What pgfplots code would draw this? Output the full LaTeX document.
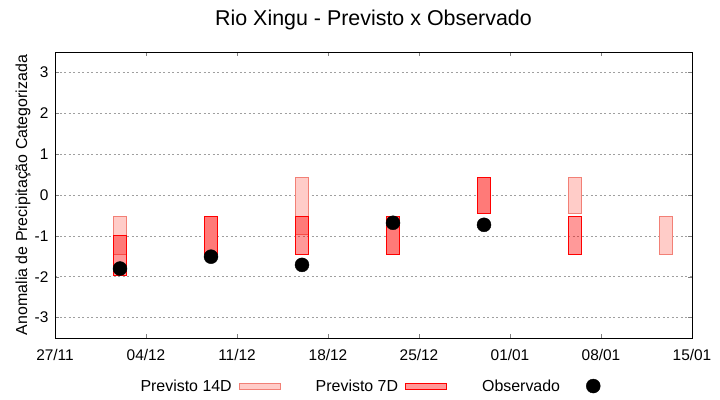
\documentclass[border=0pt]{standalone}
\usepackage{pgfplots}
\pgfplotsset{compat=1.18}
\usepackage{fontspec}
\setmainfont{Liberation Sans}

\definecolor{fill14}{RGB}{255,204,200}
\definecolor{edge14}{RGB}{242,128,118}

\begin{document}
\begin{tikzpicture}
\path[use as bounding box] (0,0) rectangle (720bp,400bp);
\begin{axis}[
    at={(55bp,62bp)}, anchor=south west,
    scale only axis,
    width=637bp, height=286bp,
    xmin=0, xmax=49,
    ymin=-3.5, ymax=3.5,
    xtick={0,7,14,21,28,35,42,49},
    xticklabels={27/11,04/12,11/12,18/12,25/12,01/01,08/01,15/01},
    ytick={-3,-2,-1,0,1,2,3},
    tick align=inside,
    major tick length=4bp,
    axis line style={line width=0.8bp},
    ymajorgrids,
    major grid style={gray!75, line width=0.7bp, dash pattern=on 2bp off 2.5bp},
    /pgf/number format/assume math mode=true,
    tick label style={font=\fontsize{15.5}{17}\selectfont},
    xticklabel style={anchor=base, yshift=-22bp},
    yticklabel style={xshift=-3bp},
    title={Rio Xingu - Previsto x Observado},
    title style={at={(0.5,1)}, anchor=base, yshift=20.5bp, font=\fontsize{21.5}{24}\selectfont},
    ylabel={Anomalia de Precipitação Categorizada},
    ylabel style={at={(axis description cs:0,0.5)}, anchor=center, rotate=0, yshift=32bp, font=\fontsize{16}{18}\selectfont},
    unbounded coords=jump,
    legend columns=3,
    legend plot pos=right,
    legend style={at={(0.5,-0.168)}, anchor=center, draw=none, fill=none,
        font=\fontsize{16}{18}\selectfont,
        /tikz/every even column/.append style={column sep=33bp},
        /tikz/every odd column/.append style={column sep=5bp}},
]

% Previsto 14D
\addplot[fill=fill14, draw=edge14, line width=1bp, line cap=rect, line join=miter,
    legend image code/.code={\draw[fill=fill14, draw=edge14, line width=1bp] (0bp,-3bp) rectangle (41bp,3bp);}]
coordinates {
    (4.525,-1.45) (5.475,-1.45) (5.475,-0.52) (4.525,-0.52) (4.525,-1.45) (5,nan)
    (11.525,-1.45) (12.475,-1.45) (12.475,-0.52) (11.525,-0.52) (11.525,-1.45) (12,nan)
    (18.525,-0.96) (19.475,-0.96) (19.475,0.43) (18.525,0.43) (18.525,-0.96) (19,nan)
    (25.525,-1.45) (26.475,-1.45) (26.475,-0.52) (25.525,-0.52) (25.525,-1.45) (26,nan)
    (32.525,-0.45) (33.475,-0.45) (33.475,0.43) (32.525,0.43) (32.525,-0.45) (33,nan)
    (39.525,-0.45) (40.475,-0.45) (40.475,0.43) (39.525,0.43) (39.525,-0.45) (40,nan)
    (46.525,-1.45) (47.475,-1.45) (47.475,-0.52) (46.525,-0.52) (46.525,-1.45)
};
\addlegendentry{Previsto 14D}

% Previsto 7D
\addplot[fill=red, fill opacity=0.4, draw=red, line width=1bp, line cap=rect, line join=miter,
    legend image code/.code={\draw[fill=red, fill opacity=0.4, draw=red, line width=1bp] (0bp,-3bp) rectangle (41bp,3bp);}]
coordinates {
    (4.525,-1.97) (5.475,-1.97) (5.475,-1.0) (4.525,-1.0) (4.525,-1.97) (5,nan)
    (11.525,-1.45) (12.475,-1.45) (12.475,-0.52) (11.525,-0.52) (11.525,-1.45) (12,nan)
    (18.525,-1.45) (19.475,-1.45) (19.475,-0.52) (18.525,-0.52) (18.525,-1.45) (19,nan)
    (25.525,-1.45) (26.475,-1.45) (26.475,-0.52) (25.525,-0.52) (25.525,-1.45) (26,nan)
    (32.525,-0.45) (33.475,-0.45) (33.475,0.43) (32.525,0.43) (32.525,-0.45) (33,nan)
    (39.525,-1.45) (40.475,-1.45) (40.475,-0.52) (39.525,-0.52) (39.525,-1.45)
};
\addlegendentry{Previsto 7D}

% Observado
\addplot[only marks, mark=*, mark size=7bp, black,
    legend image code/.code={\path (0bp,0bp) (41bp,0bp); \fill[black] (26bp,0bp) circle (7bp);}]
coordinates {
    (5,-1.80) (12,-1.51) (19,-1.71) (26,-0.68) (33,-0.73)
};
\addlegendentry{Observado}

\end{axis}
\end{tikzpicture}
\end{document}
